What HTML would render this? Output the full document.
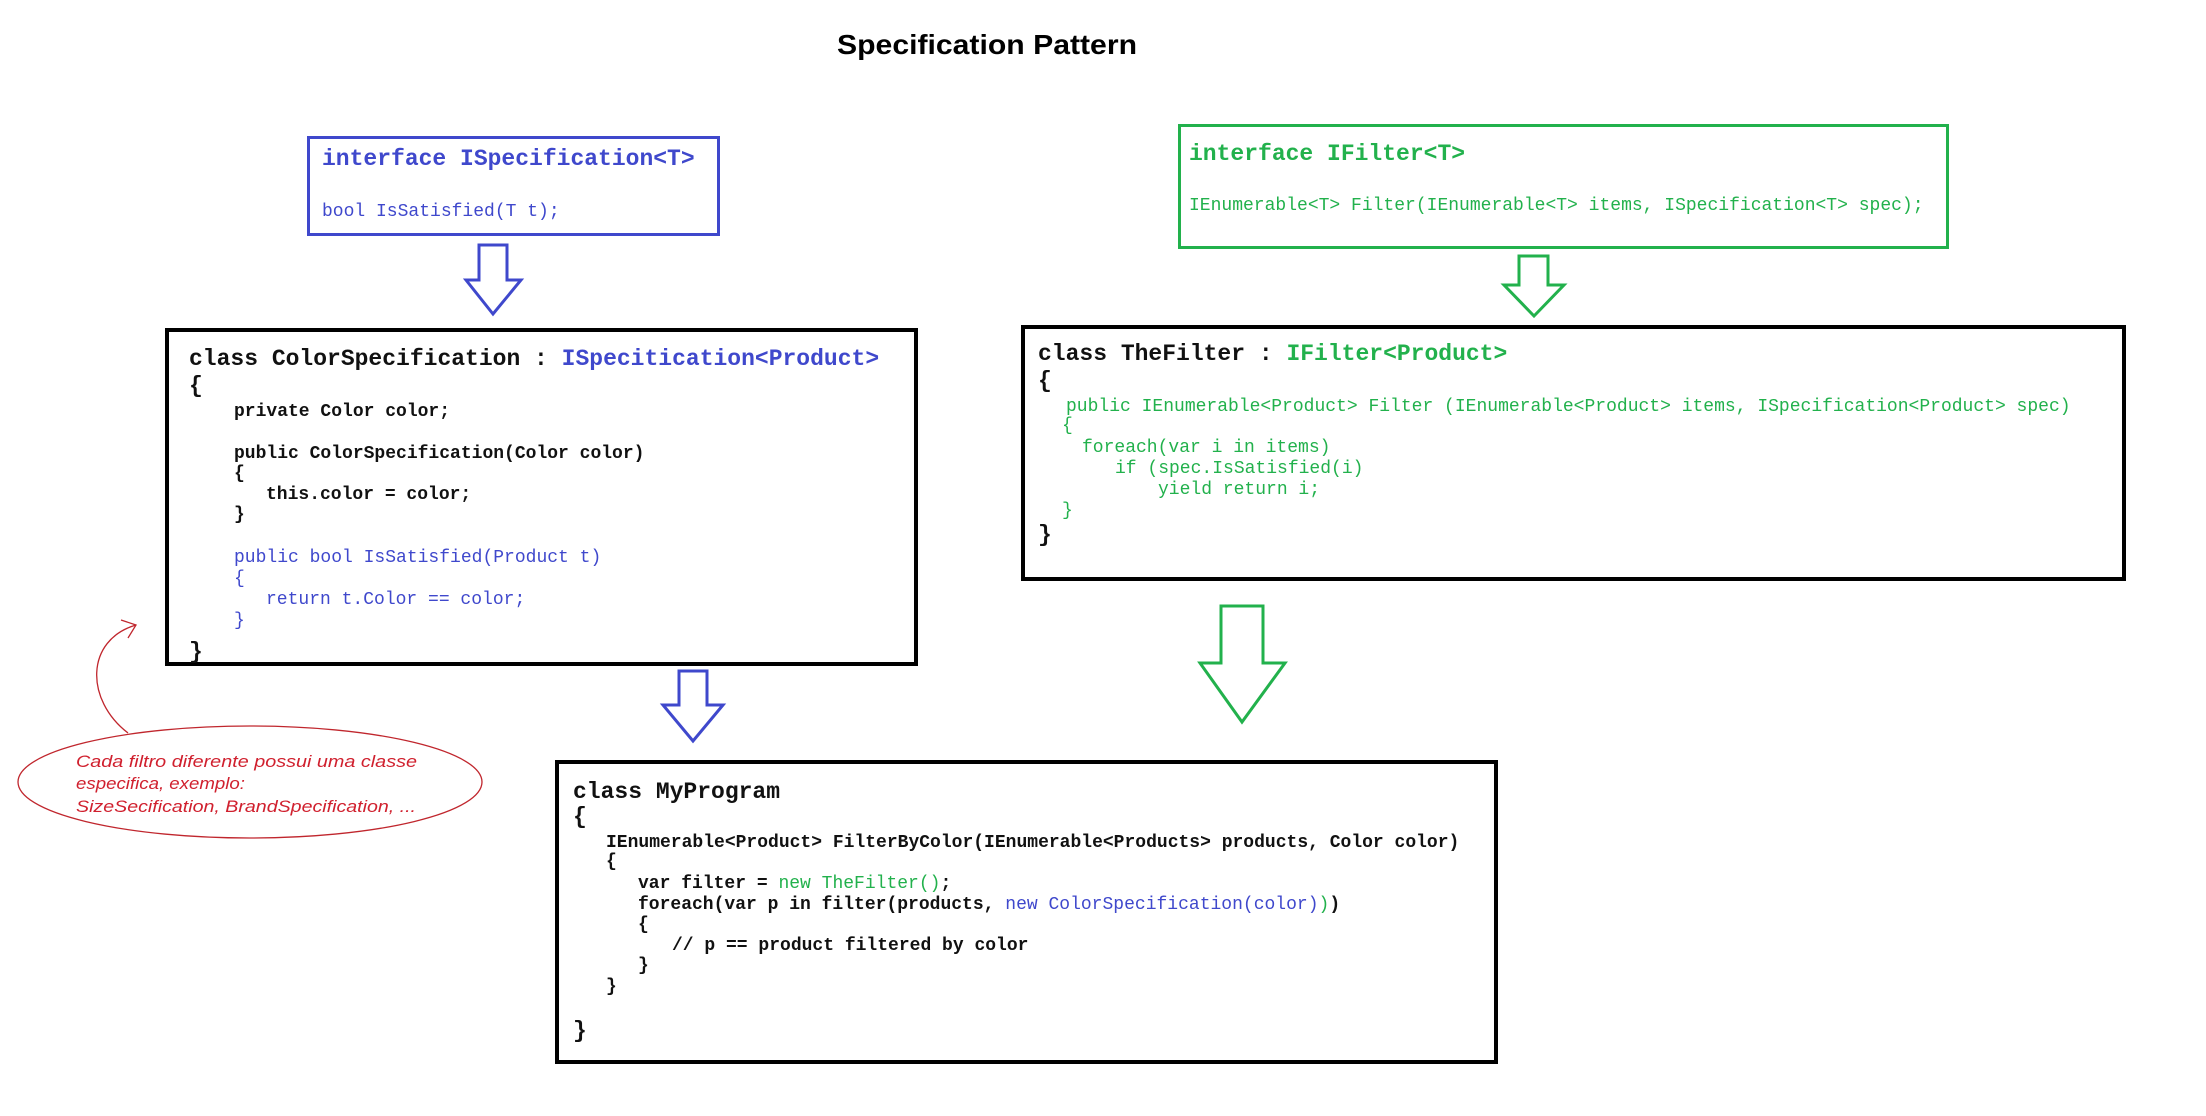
<!DOCTYPE html>
<html><head><meta charset="utf-8"><style>
html,body{margin:0;padding:0;background:#fff;}
svg{display:block;}
.m{font-family:"Liberation Mono",monospace;font-size:18px;}
.L{font-family:"Liberation Mono",monospace;font-size:23px;font-weight:bold;}
.b{fill:#111;font-weight:bold;}
.bl{fill:#3f48cc;}
.gr{fill:#22b14c;}
</style></head><body>
<svg width="2206" height="1116" viewBox="0 0 2206 1116" xmlns="http://www.w3.org/2000/svg">
<rect width="2206" height="1116" fill="#fff"/>
<text x="837" y="54" font-family="Liberation Sans, sans-serif" font-weight="bold" font-size="28" textLength="300" lengthAdjust="spacingAndGlyphs" fill="#000">Specification Pattern</text>

<!-- ISpecification -->
<rect x="308.5" y="137.5" width="410" height="97" fill="none" stroke="#3f48cc" stroke-width="3"/>
<text x="322" y="165" class="L" fill="#3f48cc">interface ISpecification&lt;T&gt;</text>
<text x="322" y="216" class="m bl">bool IsSatisfied(T t);</text>

<!-- blue arrow 1 -->
<polygon points="479,245 507,245 507,280 521,280 493,314 466,280 479,280" fill="#fff" stroke="#3f48cc" stroke-width="3"/>

<!-- ColorSpecification -->
<rect x="167" y="330" width="749" height="334" fill="none" stroke="#000" stroke-width="4"/>
<text x="189" y="365" class="L"><tspan fill="#111">class ColorSpecification : </tspan><tspan fill="#3f48cc">ISpecitication&lt;Product&gt;</tspan></text>
<text x="189" y="392" class="L" fill="#111">{</text>
<text x="234" y="416" class="m b">private Color color;</text>
<text x="234" y="458" class="m b">public ColorSpecification(Color color)</text>
<text x="234" y="478" class="m b">{</text>
<text x="266" y="499" class="m b">this.color = color;</text>
<text x="234" y="519" class="m b">}</text>
<text x="234" y="562" class="m bl">public bool IsSatisfied(Product t)</text>
<text x="234" y="583" class="m bl">{</text>
<text x="266" y="604" class="m bl">return t.Color == color;</text>
<text x="234" y="625" class="m bl">}</text>
<text x="189" y="658" class="L" fill="#111">}</text>

<!-- IFilter -->
<rect x="1179.5" y="125.5" width="768" height="122" fill="none" stroke="#22b14c" stroke-width="3"/>
<text x="1189" y="160" class="L" fill="#22b14c">interface IFilter&lt;T&gt;</text>
<text x="1189" y="210" class="m gr">IEnumerable&lt;T&gt; Filter(IEnumerable&lt;T&gt; items, ISpecification&lt;T&gt; spec);</text>

<!-- green arrow small -->
<polygon points="1519,256 1548,256 1548,285 1564,285 1534,316 1504,285 1519,285" fill="#fff" stroke="#22b14c" stroke-width="3"/>

<!-- TheFilter -->
<rect x="1023" y="327" width="1101" height="252" fill="none" stroke="#000" stroke-width="4"/>
<text x="1038" y="360" class="L"><tspan fill="#111">class TheFilter : </tspan><tspan fill="#22b14c">IFilter&lt;Product&gt;</tspan></text>
<text x="1038" y="387" class="L" fill="#111">{</text>
<text x="1066" y="411" class="m gr">public IEnumerable&lt;Product&gt; Filter (IEnumerable&lt;Product&gt; items, ISpecification&lt;Product&gt; spec)</text>
<text x="1062" y="430" class="m gr">{</text>
<text x="1082" y="452" class="m gr">foreach(var i in items)</text>
<text x="1115" y="473" class="m gr">if (spec.IsSatisfied(i)</text>
<text x="1158" y="494" class="m gr">yield return i;</text>
<text x="1062" y="515" class="m gr">}</text>
<text x="1038" y="541" class="L" fill="#111">}</text>

<!-- big green arrow -->
<polygon points="1221,606 1263,606 1263,663 1285,663 1242,722 1200,663 1221,663" fill="#fff" stroke="#22b14c" stroke-width="3"/>

<!-- blue arrow 2 -->
<polygon points="679,671 707,671 707,705 723,705 693,741 663,705 679,705" fill="#fff" stroke="#3f48cc" stroke-width="3"/>

<!-- MyProgram -->
<rect x="557" y="762" width="939" height="300" fill="none" stroke="#000" stroke-width="4"/>
<text x="573" y="798" class="L" fill="#111">class MyProgram</text>
<text x="573" y="823" class="L" fill="#111">{</text>
<text x="606" y="847" class="m b">IEnumerable&lt;Product&gt; FilterByColor(IEnumerable&lt;Products&gt; products, Color color)</text>
<text x="606" y="866" class="m b">{</text>
<text x="638" y="888" class="m"><tspan class="b">var filter = </tspan><tspan class="gr">new TheFilter()</tspan><tspan class="b">;</tspan></text>
<text x="638" y="909" class="m"><tspan class="b">foreach(var p in filter(products, </tspan><tspan class="bl">new ColorSpecification(color)</tspan><tspan class="gr">)</tspan><tspan class="b">)</tspan></text>
<text x="638" y="929" class="m b">{</text>
<text x="672" y="950" class="m b">// p == product filtered by color</text>
<text x="638" y="970" class="m b">}</text>
<text x="606" y="991" class="m b">}</text>
<text x="573" y="1037" class="L" fill="#111">}</text>

<!-- red note -->
<ellipse cx="250" cy="782" rx="232" ry="56" fill="none" stroke="#c0262d" stroke-width="1.3"/>
<path d="M128,733 C85,700 85,640 136,625" fill="none" stroke="#c0262d" stroke-width="1.3"/>
<path d="M121,620 L136,625 L128,638" fill="none" stroke="#c0262d" stroke-width="1.3"/>
<g font-family="Liberation Sans, sans-serif" font-style="italic" font-size="17" fill="#d0202e">
<text x="76" y="767" textLength="341" lengthAdjust="spacingAndGlyphs">Cada filtro diferente possui uma classe</text>
<text x="76" y="789" textLength="169" lengthAdjust="spacingAndGlyphs">especifica, exemplo:</text>
<text x="76" y="812" textLength="340" lengthAdjust="spacingAndGlyphs">SizeSecification, BrandSpecification, ...</text>
</g>
</svg>
</body></html>
